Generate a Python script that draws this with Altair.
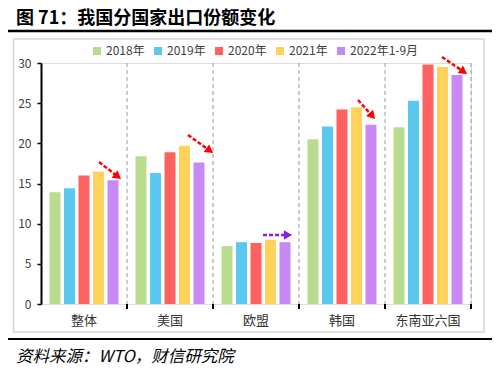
import altair as alt
import pandas as pd
import math

categories = ["整体", "美国", "欧盟", "韩国", "东南亚六国"]
years = ["2018年", "2019年", "2020年", "2021年", "2022年1-9月"]
colors = ["#b8dd8e", "#5bc8f0", "#ff6161", "#ffd25c", "#c78af5"]
v2018 = [13.9, 18.4, 7.2, 20.5, 22.0]
v2019 = [14.4, 16.3, 7.7, 22.1, 25.3]
v2020 = [16.0, 18.9, 7.6, 24.2, 29.8]
v2021 = [16.5, 19.7, 8.0, 24.5, 29.5]
v2022 = [15.4, 17.6, 7.7, 22.3, 28.5]
y_ticks = [0, 5, 10, 15, 20, 25, 30]

title_text = "图 71：我国分国家出口份额变化"
source_text = "资料来源：WTO，财信研究院"
FONT = "Noto Sans CJK SC"

W, H = 430, 241

rows = []
for i, c in enumerate(categories):
    for y, vals in zip(years, [v2018, v2019, v2020, v2021, v2022]):
        rows.append({"cat": c, "year": y, "value": vals[i]})
df = pd.DataFrame(rows)
cat_df = pd.DataFrame({"cat": categories})

xscale = alt.Scale(domain=categories, paddingInner=0, paddingOuter=0)

bars = alt.Chart(df).mark_bar().encode(
    x=alt.X("cat:N", scale=xscale, sort=categories, title=None,
            axis=alt.Axis(domainColor="black", domainWidth=2.5, ticks=False,
                          labels=False, zindex=1)),
    xOffset=alt.XOffset("year:N", sort=years,
                        scale=alt.Scale(paddingInner=0.24, paddingOuter=0.585)),
    y=alt.Y("value:Q", scale=alt.Scale(domain=[0, 30], nice=False), title=None,
            axis=alt.Axis(values=y_ticks, grid=False, domainColor="black", domainWidth=2,
                          tickColor="black", tickSize=4, tickWidth=1.5,
                          labelFontSize=12, labelColor="#404040", labelPadding=6,
                          labelFont=FONT, zindex=1)),
    color=alt.Color("year:N", sort=years,
                    scale=alt.Scale(domain=years, range=colors),
                    legend=alt.Legend(orient="none", legendX=50, legendY=-18,
                                      direction="horizontal", title=None,
                                      symbolType="square", symbolSize=64,
                                      symbolStrokeWidth=0, labelFontSize=12,
                                      labelColor="#404040", labelFont=FONT,
                                      columnPadding=7, labelOffset=3)),
)

cat_labels = alt.Chart(cat_df).mark_text(
    baseline="middle", align="center", fontSize=13, color="#333333", font=FONT).encode(
    x=alt.X("cat:N", scale=xscale, sort=categories, axis=None),
    y=alt.value(H + 17), text="cat:N")

sep_df = pd.DataFrame({"cat": categories[1:]})
end_df = pd.DataFrame({"cat": [categories[-1]]})

def seps(data, bp):
    dashed = alt.Chart(data).mark_rule(color="#9a9a9a", strokeDash=[4, 3], strokeWidth=1).encode(
        x=alt.X("cat:N", scale=xscale, sort=categories, bandPosition=bp, axis=None),
        y=alt.value(0), y2=alt.value(H))
    tick = alt.Chart(data).mark_rule(color="black", strokeWidth=2).encode(
        x=alt.X("cat:N", scale=xscale, sort=categories, bandPosition=bp, axis=None),
        y=alt.value(H), y2=alt.value(H + 5))
    return [dashed, tick]

dummy = pd.DataFrame({"a": [0]})

box = alt.Chart(dummy).mark_rect(fillOpacity=0, stroke="#d6d6d6", strokeWidth=1.5).encode(
    x=alt.value(-27.5), x2=alt.value(443), y=alt.value(-24), y2=alt.value(269))

top_line = alt.Chart(dummy).mark_rule(color="black", strokeWidth=2.5).encode(
    x=alt.value(-37), x2=alt.value(453), y=alt.value(-32))
bottom_line = alt.Chart(dummy).mark_rule(color="black", strokeWidth=2).encode(
    x=alt.value(-37), x2=alt.value(453), y=alt.value(276))

title = alt.Chart(pd.DataFrame({"t": [title_text]})).mark_text(
    align="left", baseline="middle", fontSize=18, fontWeight="bold", font=FONT,
    color="black").encode(text="t:N", x=alt.value(-25), y=alt.value(-44))

source = alt.Chart(pd.DataFrame({"t": [source_text]})).mark_text(
    align="left", baseline="middle", fontSize=16.5, fontStyle="italic", font=FONT,
    color="black").encode(text="t:N", x=alt.value(-25), y=alt.value(294))

# annotation arrows (start x, start y, end x, end y, colour) in plot pixels
arrows = [
    (58, 99, 80, 116, "#ff0000"),
    (147, 72, 172, 90, "#ff0000"),
    (222, 172, 251, 172, "#8a1ee6"),
    (317, 37, 334, 56, "#ff0000"),
    (401, -6, 426, 11, "#ff0000"),
]
arrow_layers = []
for (x1, y1, x2, y2, col) in arrows:
    dx, dy = x2 - x1, y2 - y1
    L = math.hypot(dx, dy)
    ux, uy = dx / L, dy / L
    cx, cy = x2 - ux * 4, y2 - uy * 4
    lx, ly = x2 - ux * 7, y2 - uy * 7
    ang = math.degrees(math.atan2(dx, -dy)) % 360
    arrow_layers.append(
        alt.Chart(dummy).mark_rule(color=col, strokeWidth=2.5, strokeDash=[4, 2]).encode(
            x=alt.value(x1), y=alt.value(y1), x2=alt.value(lx), y2=alt.value(ly)))
    arrow_layers.append(
        alt.Chart(dummy).mark_point(shape="triangle-up", filled=True, color=col,
                                    size=90, opacity=1, angle=ang).encode(
            x=alt.value(cx), y=alt.value(cy)))

layers = ([box, top_line, bottom_line, title, source] + seps(sep_df, 0) + seps(end_df, 1)
          + [bars, cat_labels] + arrow_layers)

chart = alt.layer(*layers).properties(
    width=W, height=H,
    autosize=alt.AutoSizeParams(type="none"),
    padding={"left": 33, "top": 55, "right": 21, "bottom": 64},
).configure_view(stroke=None).configure(background="white")

chart.save("out.html", embed_options={"renderer": "svg", "actions": False})
